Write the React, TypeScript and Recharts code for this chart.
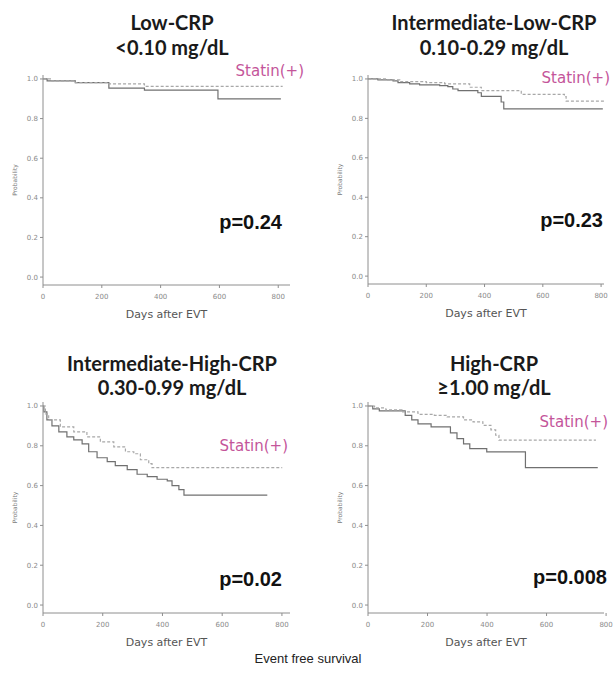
import { Label, Line, LineChart, XAxis, YAxis } from "recharts"

const dayTicks = [0, 200, 400, 600, 800]
const probTicks = [0, 0.2, 0.4, 0.6, 0.8, 1.0]

// Low-CRP <0.10 mg/dL
const lowNoDays = [0, 14, 110, 224, 345, 595, 809]
const lowNoProb = [1.0, 0.99, 0.982, 0.954, 0.944, 0.899, 0.899]
const lowStatinDays = [0, 30, 110, 224, 345, 815]
const lowStatinProb = [1.0, 0.99, 0.982, 0.975, 0.963, 0.963]

// Intermediate-Low-CRP 0.10-0.29 mg/dL
const intLowNoDays = [0, 34, 86, 103, 143, 177, 246, 274, 291, 309, 377, 389, 457, 466, 806]
const intLowNoProb = [1.0, 0.995, 0.99, 0.981, 0.975, 0.97, 0.966, 0.961, 0.949, 0.941, 0.93, 0.912, 0.883, 0.848, 0.848]
const intLowStatinDays = [0, 63, 109, 200, 263, 349, 389, 526, 674, 680, 811]
const intLowStatinProb = [1.0, 0.995, 0.986, 0.981, 0.975, 0.958, 0.941, 0.922, 0.91, 0.888, 0.888]

// Intermediate-High-CRP 0.30-0.99 mg/dL
const intHighNoDays = [0, 3, 13, 30, 53, 80, 103, 131, 153, 181, 215, 242, 282, 315, 349, 382, 416, 432, 455, 472, 751]
const intHighNoProb = [1.0, 0.97, 0.93, 0.9, 0.87, 0.845, 0.83, 0.81, 0.77, 0.74, 0.72, 0.7, 0.68, 0.657, 0.645, 0.632, 0.624, 0.6, 0.58, 0.552, 0.552]
const intHighStatinDays = [0, 8, 19, 58, 103, 147, 192, 237, 276, 304, 326, 354, 365, 801]
const intHighStatinProb = [1.0, 0.96, 0.93, 0.895, 0.87, 0.845, 0.82, 0.795, 0.77, 0.76, 0.73, 0.71, 0.69, 0.69]

// High-CRP >=1.00 mg/dL
const highNoDays = [0, 16, 38, 125, 147, 168, 212, 277, 299, 321, 342, 399, 529, 772]
const highNoProb = [1.0, 0.985, 0.975, 0.953, 0.93, 0.91, 0.895, 0.865, 0.836, 0.81, 0.786, 0.769, 0.69, 0.69]
const highStatinDays = [0, 22, 60, 114, 168, 223, 266, 321, 353, 386, 413, 429, 440, 766]
const highStatinProb = [1.0, 0.99, 0.98, 0.97, 0.958, 0.953, 0.945, 0.93, 0.92, 0.903, 0.88, 0.853, 0.828, 0.828]

const toRows = (days: number[], prob: number[]) => days.map((d, i) => ({ day: d, p: prob[i] }))

const axisGrey = "#8e8e8e"
const pink = "#c4559a"

interface PanelProps {
  axisX: number
  top: number
  plotW: number
  plotH: number
  xMax: number
  solid: { day: number; p: number }[]
  dashed: { day: number; p: number }[]
}

function Panel({ axisX, top, plotW, plotH, xMax, solid, dashed }: PanelProps) {
  const yw = 40
  const xh = 40
  return (
    <div style={{ position: "absolute", left: axisX - yw, top }}>
      <LineChart
        width={yw + plotW + 14}
        height={plotH + xh}
        margin={{ top: 0, right: 14, bottom: 0, left: 0 }}
      >
        <XAxis
          type="number"
          dataKey="day"
          domain={[0, xMax]}
          ticks={dayTicks}
          allowDataOverflow
          interval={0}
          height={xh}
          tickSize={3}
          tickMargin={6}
          stroke={axisGrey}
          tick={{ fontSize: 7, fill: "#8a8a8a", fontFamily: "DejaVu Sans" }}
        >
          <Label
            value="Days after EVT"
            position="insideBottom"
            offset={7}
            style={{ fontSize: 11, fill: "#555", fontFamily: "DejaVu Sans" }}
          />
        </XAxis>
        <YAxis
          type="number"
          domain={[-0.04, 1.02]}
          ticks={probTicks}
          allowDataOverflow
          interval={0}
          width={yw}
          tickSize={3}
          tickMargin={2}
          stroke={axisGrey}
          tickFormatter={(v: number) => v.toFixed(1)}
          tick={{ fontSize: 7, fill: "#8a8a8a", fontFamily: "DejaVu Sans" }}
        >
          <Label
            value="Probability"
            angle={-90}
            position="insideLeft"
            offset={12}
            style={{ textAnchor: "middle", fontSize: 6, fill: "#777", fontFamily: "DejaVu Sans" }}
          />
        </YAxis>
        <Line
          data={solid}
          dataKey="p"
          type="stepAfter"
          stroke="#707070"
          strokeWidth={1.2}
          dot={false}
          isAnimationActive={false}
        />
        <Line
          data={dashed}
          dataKey="p"
          type="stepAfter"
          stroke="#a8a8a8"
          strokeWidth={1.2}
          strokeDasharray="3 2"
          dot={false}
          isAnimationActive={false}
        />
      </LineChart>
    </div>
  )
}

const titleFont = { fontFamily: "Lato", fontWeight: 700, fontSize: 20, fill: "#1a1a1a" }
const statinFont = { fontFamily: "DejaVu Sans", fontSize: 15, fill: pink }
const pFont = { fontFamily: "Liberation Sans", fontWeight: 700, fontSize: 20, fill: "#111" }

export default function App() {
  return (
    <div style={{ position: "fixed", left: 0, top: 0, width: 616, height: 682, background: "#fff", overflow: "hidden" }}>
      <Panel axisX={43} top={75} plotW={247} plotH={210} xMax={840}
        solid={toRows(lowNoDays, lowNoProb)} dashed={toRows(lowStatinDays, lowStatinProb)} />
      <Panel axisX={368} top={75} plotW={236} plotH={209} xMax={810}
        solid={toRows(intLowNoDays, intLowNoProb)} dashed={toRows(intLowStatinDays, intLowStatinProb)} />
      <Panel axisX={43} top={402} plotW={247} plotH={211} xMax={827}
        solid={toRows(intHighNoDays, intHighNoProb)} dashed={toRows(intHighStatinDays, intHighStatinProb)} />
      <Panel axisX={368} top={402} plotW={236} plotH={211} xMax={793}
        solid={toRows(highNoDays, highNoProb)} dashed={toRows(highStatinDays, highStatinProb)} />

      <svg width={616} height={682} style={{ position: "absolute", left: 0, top: 0, pointerEvents: "none" }}>
        <g textAnchor="middle" dominantBaseline="central" style={titleFont}>
          <text x={172} y={22}>Low-CRP</text>
          <text x={172} y={47}>&lt;0.10 mg/dL</text>
          <text x={494} y={22}>Intermediate-Low-CRP</text>
          <text x={494} y={47}>0.10-0.29 mg/dL</text>
          <text x={172} y={363}>Intermediate-High-CRP</text>
          <text x={172} y={387}>0.30-0.99 mg/dL</text>
          <text x={494} y={363}>High-CRP</text>
          <text x={494} y={387}>≥1.00 mg/dL</text>
        </g>
        <g textAnchor="end" dominantBaseline="central" style={statinFont}>
          <text x={304} y={71}>Statin(+)</text>
          <text x={610} y={78}>Statin(+)</text>
          <text x={288} y={446}>Statin(+)</text>
          <text x={608} y={422}>Statin(+)</text>
        </g>
        <g textAnchor="end" style={pFont}>
          <text x={282} y={229}>p=0.24</text>
          <text x={603} y={227}>p=0.23</text>
          <text x={282} y={586}>p=0.02</text>
          <text x={607} y={584}>p=0.008</text>
        </g>
        <text x={308} y={658} textAnchor="middle" dominantBaseline="central"
          style={{ fontFamily: "Liberation Sans", fontSize: 13, fill: "#222" }}>
          Event free survival
        </text>
      </svg>
    </div>
  )
}
